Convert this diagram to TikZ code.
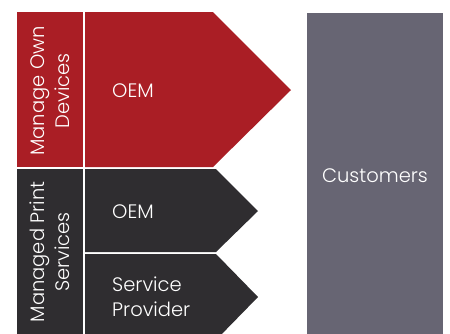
\documentclass[tikz,border=0pt]{standalone}
\usepackage{fontspec}
\setmainfont{Poppins}[UprightFont=* Light]
\definecolor{mgRed}{HTML}{AA1E25}
\definecolor{mgDark}{HTML}{2F2D30}
\definecolor{mgGray}{HTML}{676573}
\begin{document}
\begin{tikzpicture}[
		x=1pt,y=-1pt,
		label/.style = {text=white, font=\fontsize{19.5}{25}\selectfont, inner sep=0pt},
		side/.style = {label, rotate=90, align=center},
		item/.style = {label, anchor=west, align=left}
	]
	\useasboundingbox (0,0) rectangle (450,333);
	\clip (0,0) rectangle (450,333);
	% columns on the left
	\fill [mgRed] (17,12) rectangle (83,167);
	\fill [mgDark] (17,169) rectangle (83,340);
	% arrows
	\fill [mgRed] (85,12) -- (213,12) -- (291,90) -- (213,167) -- (85,167) -- cycle;
	\fill [mgDark] (85,169) -- (216,169) -- (258,211) -- (216,252) -- (85,252) -- cycle;
	\fill [mgDark] (85,254) -- (216,254) -- (258,297) -- (216,340) -- (85,340) -- cycle;
	% customers
	\fill [mgGray] (307,13) rectangle (443,340);

	\node (own) [side] at (50,91) {Manage Own\\Devices};
	\node (mps) [side] at (50,252) {Managed Print\\Services};
	\node (oemA) [item] at (112,91) {OEM};
	\node (oemB) [item] at (112,212) {OEM};
	\node (provider) [item] at (112,297) {Service\\Provider};
	\node (customers) [label] at (375,176) {Customers};
\end{tikzpicture}
\end{document}
